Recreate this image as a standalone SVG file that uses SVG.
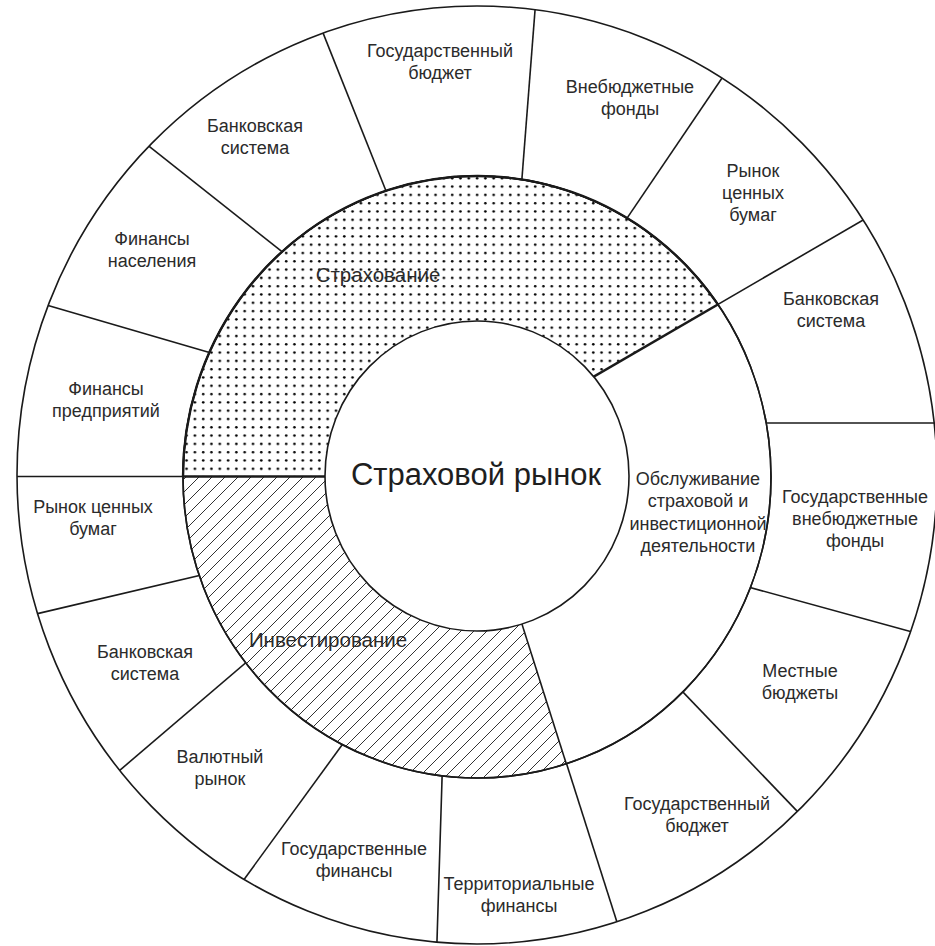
<svg xmlns="http://www.w3.org/2000/svg" width="935" height="946" viewBox="0 0 935 946">
<style>
.ln{stroke:#1a1a1a;stroke-width:1.6;fill:none}
.fl{stroke:#1a1a1a;stroke-width:1.6;fill:#fff}
.thk{stroke:#1a1a1a;stroke-width:2.6;fill:none}
.lbl{font-family:"Liberation Sans",Arial,sans-serif;font-size:18px;fill:#2b2b2b;text-anchor:middle}
.mid{font-family:"Liberation Sans",Arial,sans-serif;font-size:20.5px;fill:#2b2b2b;text-anchor:middle}
.ctr{font-family:"Liberation Sans",Arial,sans-serif;font-size:31px;fill:#1e1e1e;text-anchor:middle}
</style>
<defs>
<clipPath id="outClip"><ellipse cx="477" cy="475" rx="460" ry="469"/></clipPath>
<clipPath id="midClip"><ellipse cx="477" cy="477" rx="294" ry="301"/></clipPath>
<pattern id="dots" width="8.3" height="8.3" patternUnits="userSpaceOnUse"><circle cx="4" cy="4" r="1.3" fill="#000"/></pattern>
<pattern id="hatch" width="13" height="13" patternUnits="userSpaceOnUse"><path d="M0,13 L13,0 M-2,2 L2,-2 M11,15 L15,11" stroke="#333" stroke-width="1"/></pattern>
</defs>
<rect width="935" height="946" fill="#fff"/>
<ellipse cx="477" cy="475" rx="460" ry="469" fill="#fff"/>
<g id="connectors">
<g clip-path="url(#outClip)">
<line class="ln" x1="395.5" y1="214.7" x2="319.9" y2="25.1"/>
<line class="ln" x1="519.8" y1="206.1" x2="535.7" y2="1.5"/>
<line class="ln" x1="612.5" y1="239.6" x2="726.8" y2="71"/>
<line class="ln" x1="404" y1="487" x2="876.5" y2="212.2"/>
<line class="ln" x1="740" y1="423" x2="945" y2="423"/>
<line class="ln" x1="725.8" y1="580.8" x2="918.6" y2="633.8"/>
<line class="ln" x1="664.1" y1="672.4" x2="803.8" y2="818.1"/>
<line class="ln" x1="494.8" y1="538.5" x2="619.8" y2="930.9"/>
<line class="ln" x1="443" y1="747.4" x2="436.7" y2="950.5"/>
<line class="ln" x1="356.6" y1="725" x2="240.2" y2="884.7"/>
<line class="ln" x1="261.5" y1="649.3" x2="113.9" y2="775.3"/>
<line class="ln" x1="220.6" y1="570.5" x2="32.2" y2="614.9"/>
<line class="ln" x1="5" y1="476.5" x2="330" y2="476.5"/>
<line class="ln" x1="231.7" y1="358.9" x2="42.1" y2="303.7"/>
<line class="ln" x1="299.5" y1="265.5" x2="143.5" y2="141.9"/>
</g>
</g>
<ellipse class="fl" cx="477" cy="477" rx="294" ry="301"/>
<g id="sectors" clip-path="url(#midClip)">
<polygon id="strah-area" points="100,476.5 422.7,476.5 1133,63 1133,-100 100,-100" fill="url(#dots)"/>
<polygon id="invest-area" points="100,476.5 474.9,476.5 711,1217 100,1217" fill="url(#hatch)"/>
<line class="thk" x1="404" y1="487" x2="760" y2="280"/>
<line class="ln" x1="494.8" y1="538.5" x2="600" y2="870"/>
<line class="thk" x1="150" y1="476.5" x2="400" y2="476.5"/>
</g>
<ellipse class="ln" cx="477" cy="477" rx="294" ry="301"/>
<path class="ln" style="stroke-width:2.4" d="M183,477 A294,301 0 0 1 717.9,304.4"/>
<ellipse class="fl" cx="477" cy="476" rx="152" ry="155"/>
<ellipse class="ln" cx="477" cy="475" rx="460" ry="469"/>

<g id="center"><text class="ctr" x="476" y="485">Страховой рынок</text></g>
<g id="strahovanie"><text class="mid" x="378" y="282">Страхование</text></g>
<g id="investirovanie"><text class="mid" x="328" y="647">Инвестирование</text></g>
<g id="obsluzhivanie"><text class="lbl" x="698" y="485">Обслуживание</text><text class="lbl" x="698" y="507">страховой и</text><text class="lbl" x="698" y="530">инвестиционной</text><text class="lbl" x="698" y="552">деятельности</text></g>

<g id="bank-tl"><text class="lbl" x="255" y="132">Банковская</text><text class="lbl" x="255" y="154">система</text></g>
<g id="gosbud-top"><text class="lbl" x="440" y="57">Государственный</text><text class="lbl" x="440" y="79">бюджет</text></g>
<g id="vnebud"><text class="lbl" x="630" y="93">Внебюджетные</text><text class="lbl" x="630" y="115">фонды</text></g>
<g id="rcb-top"><text class="lbl" x="753" y="177">Рынок</text><text class="lbl" x="753" y="199">ценных</text><text class="lbl" x="753" y="221">бумаг</text></g>
<g id="bank-r"><text class="lbl" x="831" y="305">Банковская</text><text class="lbl" x="831" y="327">система</text></g>
<g id="gos-vneb"><text class="lbl" x="855" y="503">Государственные</text><text class="lbl" x="855" y="525">внебюджетные</text><text class="lbl" x="855" y="547">фонды</text></g>
<g id="mestnye"><text class="lbl" x="800" y="677">Местные</text><text class="lbl" x="800" y="699">бюджеты</text></g>
<g id="gosbud-br"><text class="lbl" x="697" y="810">Государственный</text><text class="lbl" x="697" y="832">бюджет</text></g>
<g id="territ"><text class="lbl" x="519" y="890">Территориальные</text><text class="lbl" x="519" y="912">финансы</text></g>
<g id="gosfin"><text class="lbl" x="354" y="855">Государственные</text><text class="lbl" x="354" y="877">финансы</text></g>
<g id="valut"><text class="lbl" x="220" y="763">Валютный</text><text class="lbl" x="220" y="785">рынок</text></g>
<g id="bank-bl"><text class="lbl" x="145" y="658">Банковская</text><text class="lbl" x="145" y="680">система</text></g>
<g id="rcb-l"><text class="lbl" x="93" y="513">Рынок ценных</text><text class="lbl" x="93" y="535">бумаг</text></g>
<g id="fin-pred"><text class="lbl" x="106" y="395">Финансы</text><text class="lbl" x="106" y="417">предприятий</text></g>
<g id="fin-nas"><text class="lbl" x="152" y="245">Финансы</text><text class="lbl" x="152" y="267">населения</text></g>
</svg>
